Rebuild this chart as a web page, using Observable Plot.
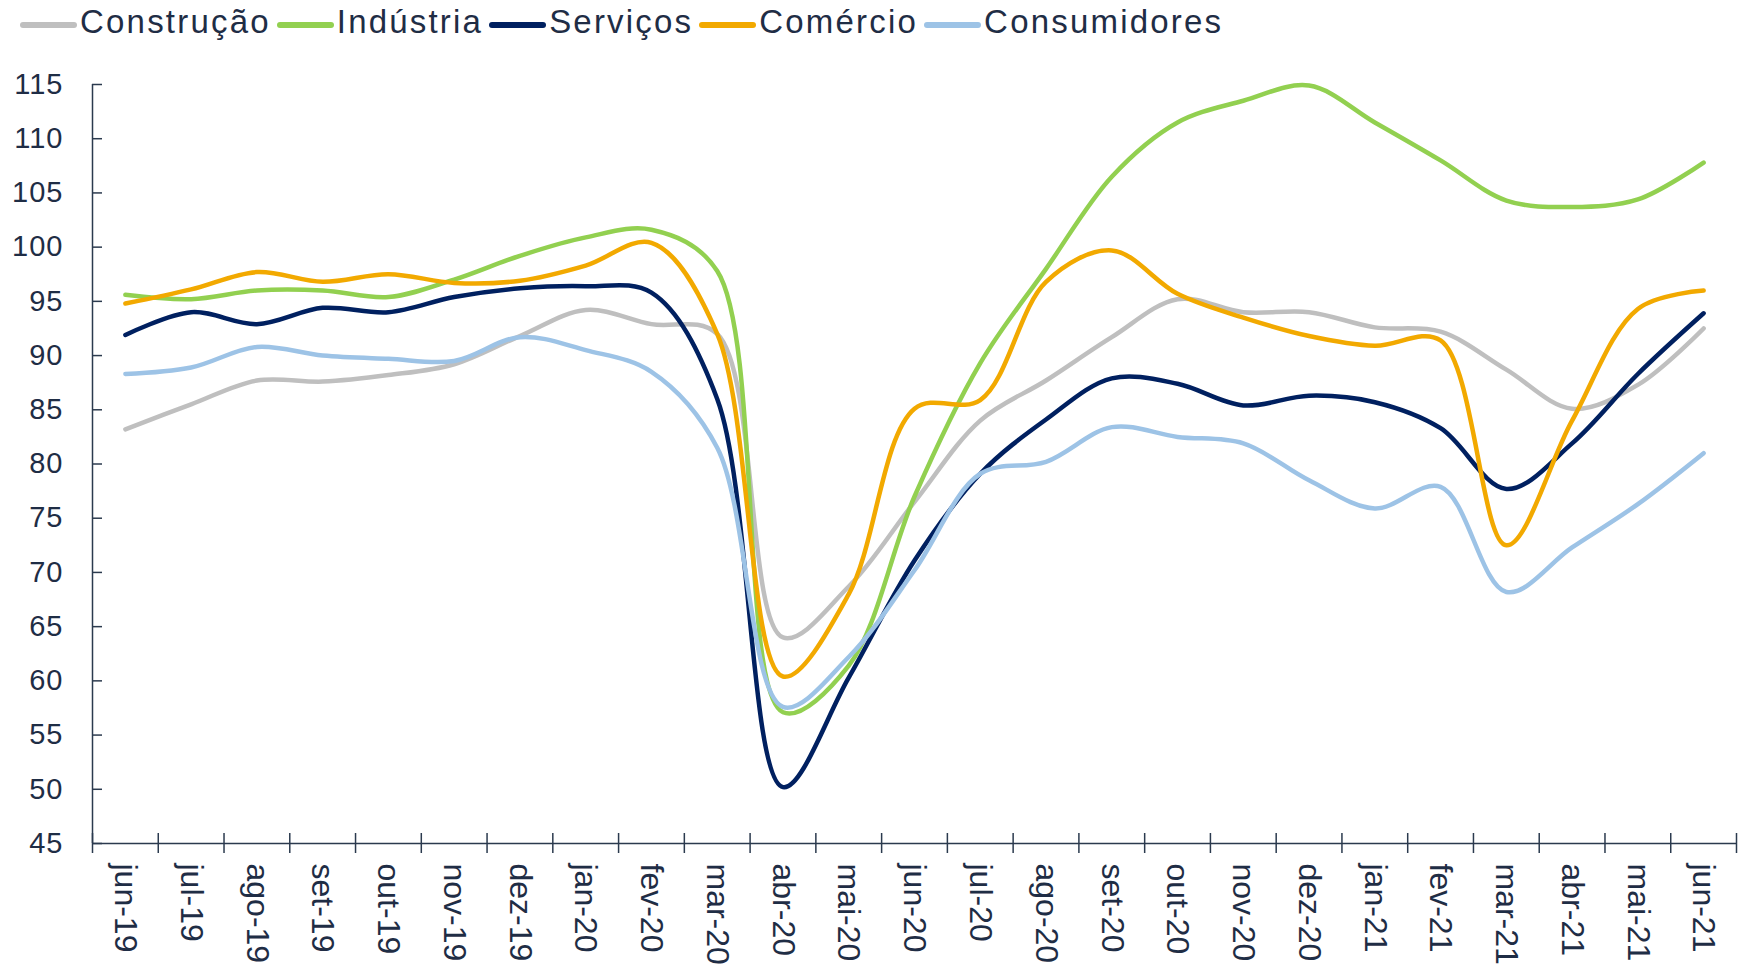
<!DOCTYPE html>
<html><head><meta charset="utf-8">
<script src="https://cdn.jsdelivr.net/npm/d3@7"></script>
<script src="https://cdn.jsdelivr.net/npm/@observablehq/plot@0.6"></script>
<style>
body{margin:0;background:#fff;font-family:"Liberation Sans",Arial,sans-serif;color:#1F2D45;}
#legend{height:44px;display:flex;align-items:center;padding-left:20px;font-size:33px;letter-spacing:2.2px;white-space:nowrap;}
.item{display:flex;align-items:center;margin-right:6px}
.sw{width:57px;height:6px;border-radius:3px;margin-right:3px;margin-top:6px}
.ylab text{letter-spacing:1px}
</style></head><body>
<div id="legend"></div><div id="chart"></div>
<script>
const months = ["jun-19","jul-19","ago-19","set-19","out-19","nov-19","dez-19","jan-20","fev-20","mar-20","abr-20","mai-20","jun-20","jul-20","ago-20","set-20","out-20","nov-20","dez-20","jan-21","fev-21","mar-21","abr-21","mai-21","jun-21"];
const construcao   = [83.2,85.5,87.7,87.6,88.2,89.2,91.8,94.2,92.9,92.0,64.0,68.7,76.5,84.0,87.7,91.7,95.2,94.0,94.0,92.6,92.2,88.7,85.1,87.3,92.5];
const industria    = [95.6,95.2,96.0,96.0,95.4,97.0,99.2,100.9,101.6,97.8,57.1,61.4,77.0,89.3,98.0,106.5,111.5,113.5,114.9,111.5,108.0,104.3,103.7,104.4,107.8];
const servicos     = [91.9,94.0,92.9,94.4,94.0,95.4,96.2,96.4,95.8,86.0,50.2,60.3,71.1,79.1,84.1,87.9,87.4,85.4,86.3,85.7,83.3,77.7,81.9,88.3,93.9];
const comercio     = [94.8,96.1,97.7,96.8,97.5,96.7,96.9,98.3,100.4,92.0,60.4,68.0,85.1,85.9,96.8,99.7,95.7,93.5,91.8,90.9,91.4,72.5,84.0,94.3,96.0];
const consumidores = [88.3,88.9,90.8,90.0,89.7,89.5,91.7,90.5,88.5,81.5,57.6,62.2,70.2,79.1,80.2,83.4,82.5,81.9,78.5,75.9,77.9,68.2,72.3,76.3,81.0];
const seriesNames  = ["Construção","Indústria","Serviços","Comércio","Consumidores"];
const seriesColors = ["#BFBFBF","#92D050","#002060","#F2A900","#9DC3E6"];
const yTicks = [45,50,55,60,65,70,75,80,85,90,95,100,105,110,115];

const seriesValues = [construcao, industria, servicos, comercio, consumidores];
const rows = seriesNames.flatMap((name, s) => seriesValues[s].map((v, i) => ({serie: name, i, v})));
const xDomain = [-0.5, months.length - 0.5];
const yDomain = [yTicks[0], yTicks[yTicks.length - 1]];
const boundaries = d3.range(months.length + 1).map(i => i - 0.5);
const centers = d3.range(months.length);
const ink = "#1F2D45";

const leg = document.getElementById("legend");
seriesNames.forEach((n, k) => {
  const it = document.createElement("div"); it.className = "item";
  const sw = document.createElement("div"); sw.className = "sw"; sw.style.background = seriesColors[k];
  const tx = document.createElement("span"); tx.textContent = n;
  it.appendChild(sw); it.appendChild(tx); leg.appendChild(it);
});

const chart = Plot.plot({
  width: 1747,
  height: 925,
  marginLeft: 92,
  marginRight: 11,
  marginTop: 40,
  marginBottom: 126,
  style: {fontFamily: "Liberation Sans, Arial, sans-serif", color: ink, background: "#fff"},
  x: {type: "linear", domain: xDomain, axis: null},
  y: {domain: yDomain, axis: null},
  color: {domain: seriesNames, range: seriesColors},
  marks: [
    Plot.ruleX([xDomain[0]], {y1: yDomain[0], y2: yDomain[1], stroke: "#2B3A4E", strokeWidth: 1.5}),
    Plot.ruleY([yDomain[0]], {x1: xDomain[0], x2: xDomain[1], stroke: "#2B3A4E", strokeWidth: 1.5}),
    Plot.axisY({ticks: yTicks, tickSize: 10, dx: 10, text: null, label: null, stroke: "#2B3A4E", strokeWidth: 1.5}),
    Plot.axisY({ticks: yTicks, tickSize: 0, tickPadding: 29, label: null, fontSize: 29, fill: ink, className: "ylab", tickFormat: d => String(d)}),
    Plot.axisX({ticks: boundaries, tickSize: 20, dy: -10, text: null, label: null, stroke: "#2B3A4E", strokeWidth: 1.5}),
    Plot.axisX({ticks: centers, tickSize: 0, tickPadding: 20, tickRotate: 90, textAnchor: "start", lineAnchor: "middle", label: null, fontSize: 32, fill: ink, tickFormat: i => months[i]}),
    Plot.line(rows, {x: "i", y: "v", z: "serie", stroke: "serie", strokeWidth: 4.5, curve: "catmull-rom", strokeLinecap: "round", strokeLinejoin: "round"})
  ]
});
document.getElementById("chart").appendChild(chart);
</script>
</body></html>
